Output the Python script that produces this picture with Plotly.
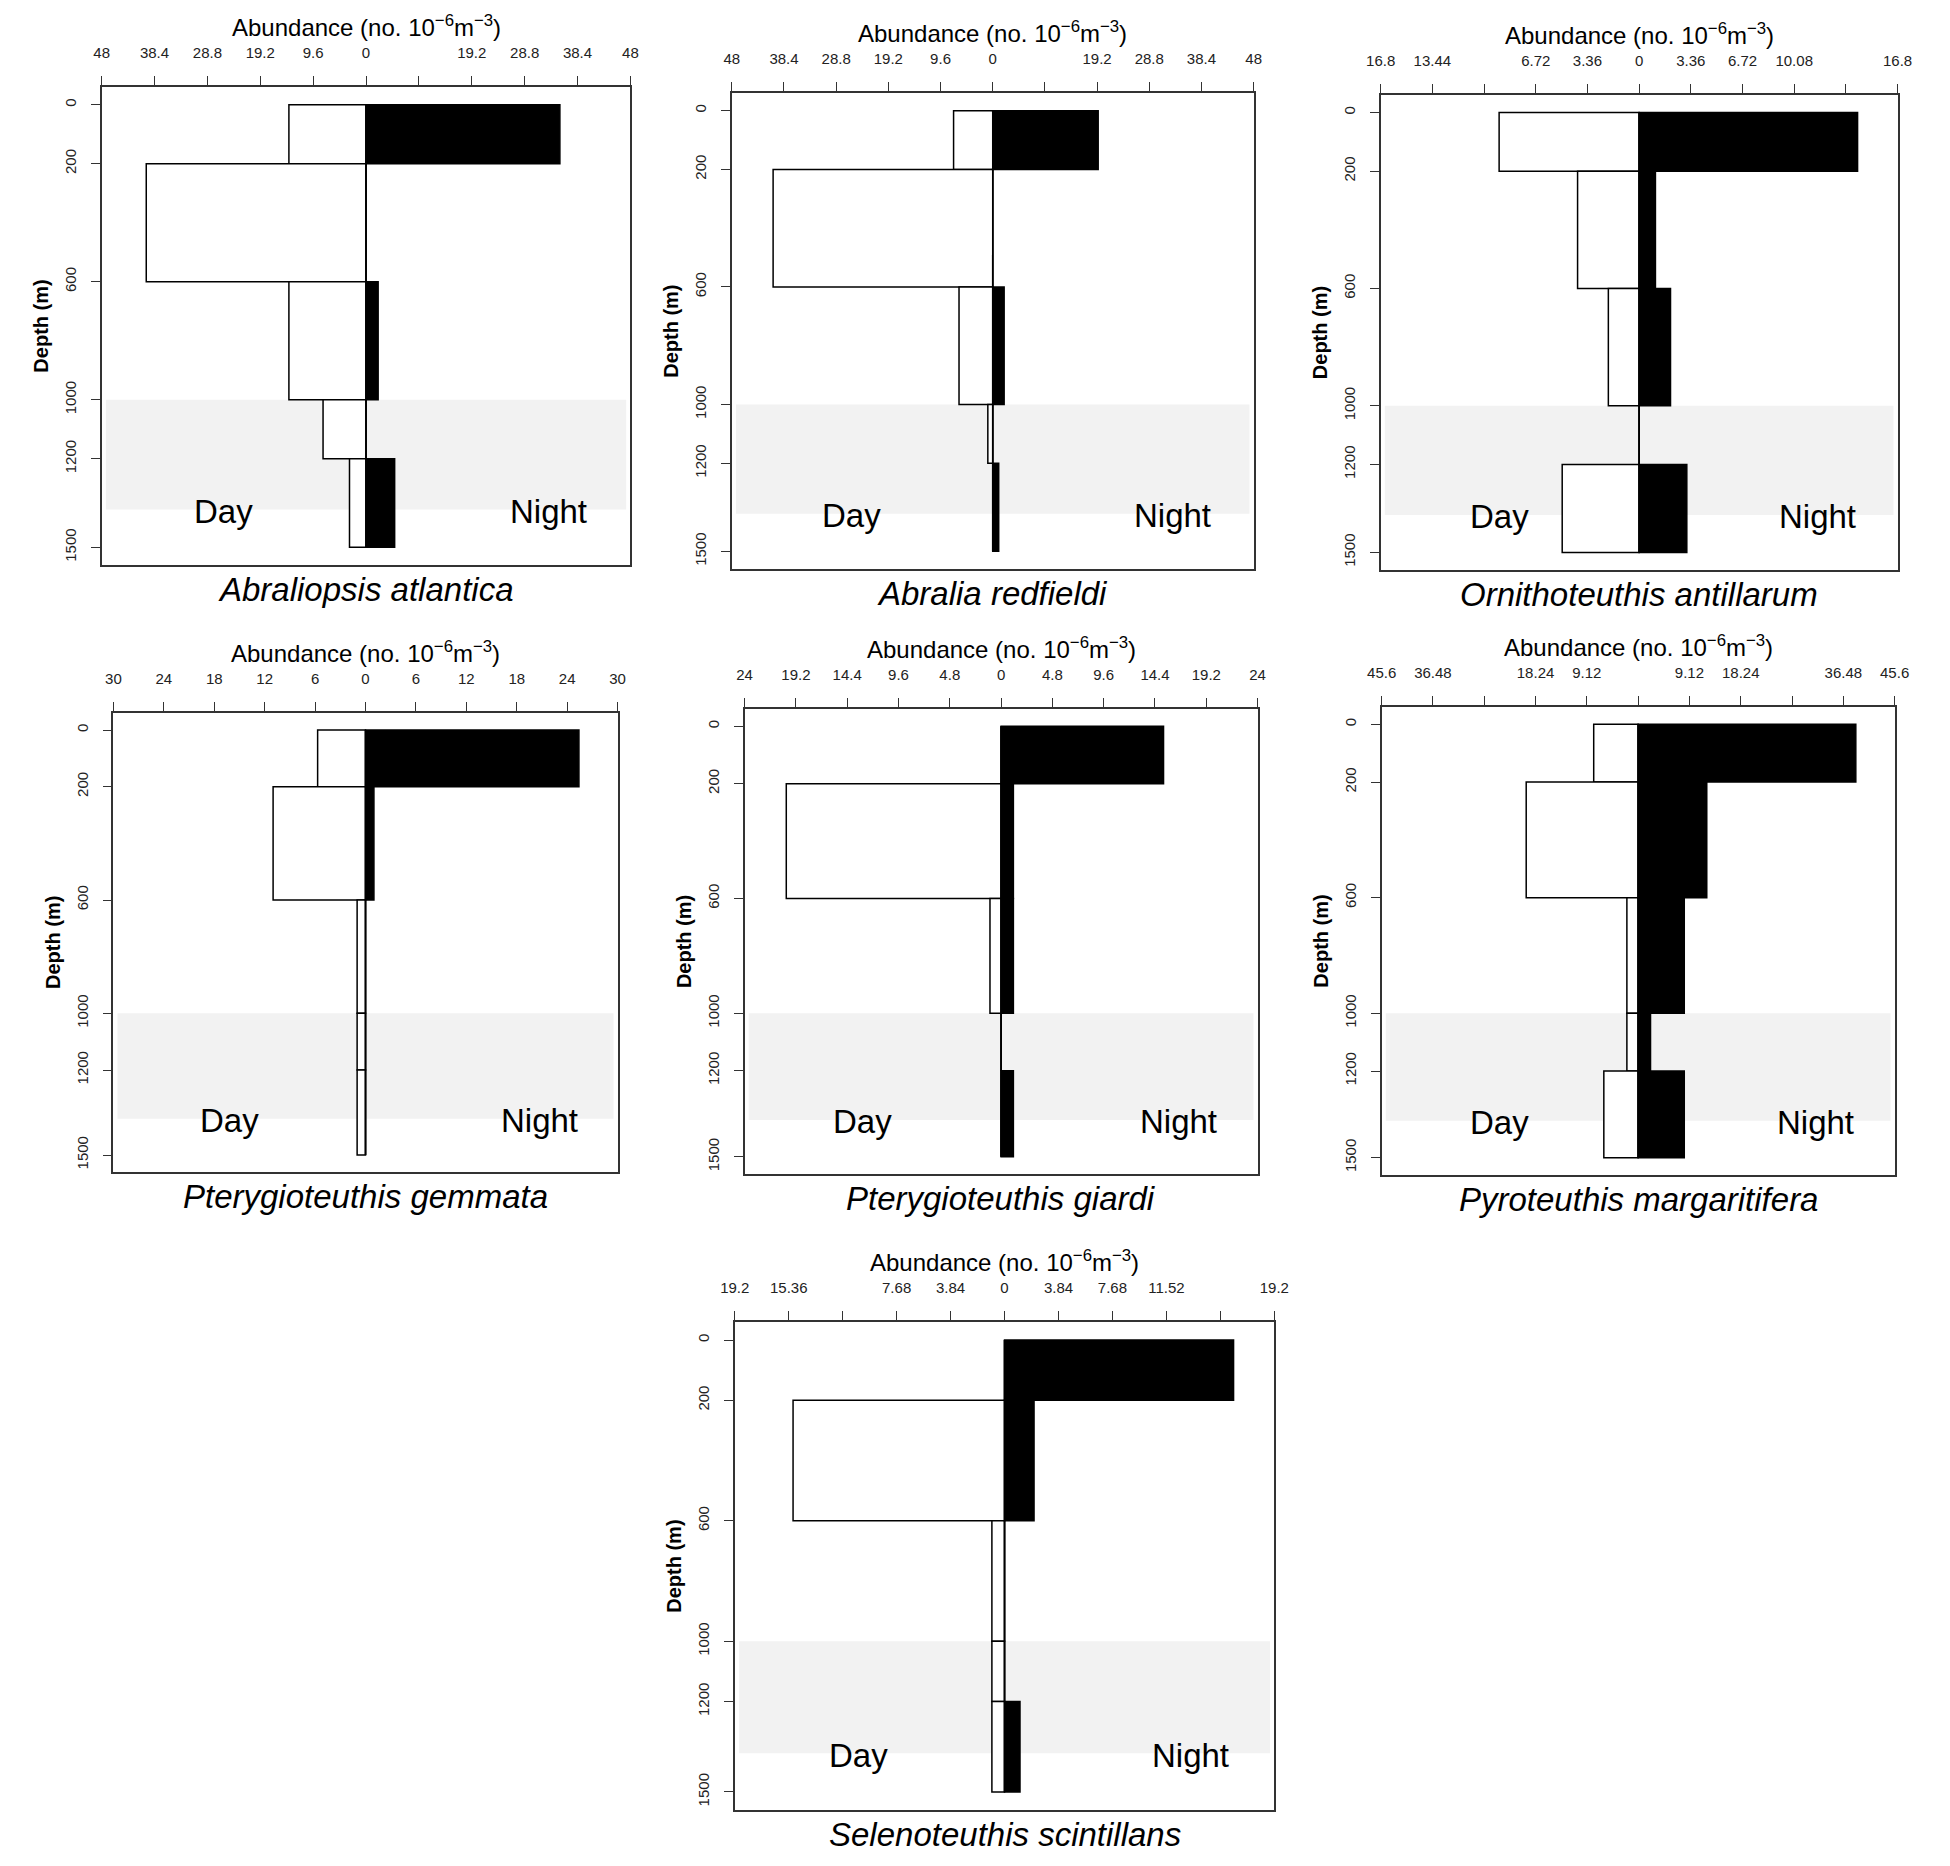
import plotly.graph_objects as go

# depth bins (m)
depth_edges = [0, 200, 600, 1000, 1200, 1500]
depth_ticks = [0, 200, 600, 1000, 1200, 1500]

species = [
    "Abraliopsis atlantica",
    "Abralia redfieldi",
    "Ornithoteuthis antillarum",
    "Pterygioteuthis gemmata",
    "Pterygioteuthis giardi",
    "Pyroteuthis margaritifera",
    "Selenoteuthis scintillans",
]

# abundance (no. 10^-6 m^-3) per depth bin
day_abraliopsis = [14.0, 39.9, 14.0, 7.8, 3.0]
night_abraliopsis = [35.2, 0, 2.2, 0, 5.2]
day_abralia = [7.2, 40.4, 6.2, 0.9, 0]
night_abralia = [19.4, 0, 2.1, 0, 1.1]
day_ornitho = [9.1, 4.0, 2.0, 0, 5.0]
night_ornitho = [14.2, 1.06, 2.04, 0, 3.1]
day_gemmata = [5.7, 11.0, 1.0, 1.0, 1.0]
night_gemmata = [25.4, 1.0, 0, 0, 0]
day_giardi = [0, 20.1, 1.04, 0, 0]
night_giardi = [15.2, 1.15, 1.15, 0, 1.15]
day_pyro = [7.9, 19.9, 2.0, 2.0, 6.1]
night_pyro = [38.7, 12.2, 8.2, 2.2, 8.2]
day_seleno = [0, 15.05, 0.9, 0.9, 0.9]
night_seleno = [16.3, 2.1, 0, 0, 1.1]

day_values = [day_abraliopsis, day_abralia, day_ornitho, day_gemmata,
              day_giardi, day_pyro, day_seleno]
night_values = [night_abraliopsis, night_abralia, night_ornitho, night_gemmata,
                night_giardi, night_pyro, night_seleno]

# axis half-range and tick step per panel
axis_max = [48, 48, 16.8, 30, 24, 45.6, 19.2]
tick_step = [9.6, 9.6, 3.36, 6, 4.8, 9.12, 3.84]
# tick values whose label is not printed
unlabeled = [[9.6], [9.6], [-10.08, 13.44], [], [], [-27.36, 0, 27.36], [-11.52, 15.36]]

# panel boxes in pixels (x0, x1, y0, y1), y from top
W, H = 1950, 1866
boxes = [
    (88, 625, 87, 565),
    (728, 1258, 93, 569),
    (1387, 1912, 95, 570),
    (100, 612, 713, 1172),
    (741, 1262, 709, 1174),
    (1388, 1909, 707, 1175),
    (731, 1279, 1322, 1810),
]

FONT = "Liberation Sans, Arial, sans-serif"
TICK_FONT = dict(family=FONT, size=15, color="#222")
shade_top, shade_bottom = 1000, 1372

mids = [(a + b) / 2 for a, b in zip(depth_edges[:-1], depth_edges[1:])]
widths = [b - a for a, b in zip(depth_edges[:-1], depth_edges[1:])]

fig = go.Figure()
layout = dict(
    width=W, height=H,
    margin=dict(l=0, r=0, t=0, b=0),
    paper_bgcolor="white", plot_bgcolor="white",
    showlegend=False, barmode="overlay",
    annotations=[], shapes=[],
)

for i in range(7):
    n = "" if i == 0 else str(i + 1)
    xa, ya = "x" + n, "y" + n
    m = axis_max[i]
    step = tick_step[i]
    all_ticks = [round(k * step, 2) for k in range(-5, 6)]
    shown = [v for v in all_ticks if not any(abs(v - u) < 1e-6 for u in unlabeled[i])]

    fig.add_trace(go.Bar(
        y=mids, x=[-v for v in day_values[i]], width=widths, orientation="h",
        marker=dict(color="white", line=dict(color="black", width=1.5)),
        xaxis=xa, yaxis=ya, hoverinfo="skip"))
    fig.add_trace(go.Bar(
        y=mids, x=night_values[i], width=widths, orientation="h",
        marker=dict(color="black", line=dict(color="black", width=1.5)),
        xaxis=xa, yaxis=ya, hoverinfo="skip"))
    fig.add_trace(go.Scatter(
        x=[0, 0], y=[depth_edges[0], depth_edges[-1]], mode="lines",
        line=dict(color="black", width=1.5), xaxis=xa, yaxis=ya, hoverinfo="skip"))

    x0, x1, y0, y1 = boxes[i]
    layout["xaxis" + n] = dict(
        domain=[x0 / W, x1 / W], anchor=ya, side="top",
        range=[-m, m], tickmode="array", tickvals=shown,
        ticktext=[f"{abs(v):g}" for v in shown],
        ticks="outside", ticklen=9, tickwidth=1.4, tickcolor="#333",
        minor=dict(tickmode="array", tickvals=all_ticks, ticks="outside",
                   ticklen=9, tickwidth=1.4, tickcolor="#333", showgrid=False),
        showline=True, mirror=True, linecolor="#333", linewidth=1.8,
        showgrid=False, zeroline=False, ticklabelstandoff=12,
        tickfont=TICK_FONT,
    )
    layout["yaxis" + n] = dict(
        domain=[1 - y1 / H, 1 - y0 / H], anchor=xa,
        range=[1560, -60], tickvals=depth_ticks, tickangle=-90,
        ticks="outside", ticklen=9, tickwidth=1.4, tickcolor="#333",
        showline=True, mirror=True, linecolor="#333", linewidth=1.8,
        showgrid=False, zeroline=False, ticklabelstandoff=9,
        tickfont=TICK_FONT,
    )

    layout["shapes"].append(dict(
        type="rect", xref=xa + " domain", yref=ya, x0=0.008, x1=0.992,
        y0=shade_top, y1=shade_bottom, fillcolor="#f2f2f2",
        line=dict(width=0), layer="below"))

    dom_x, dom_y = xa + " domain", ya + " domain"
    layout["annotations"] += [
        dict(text="Abundance (no. 10<sup>−6</sup>m<sup>−3</sup>)", xref=dom_x, yref=dom_y,
             x=0.5, y=1, yshift=61, showarrow=False, yanchor="middle",
             font=dict(family=FONT, size=24, color="black")),
        dict(text="<i>" + species[i] + "</i>", xref=dom_x, yref=dom_y,
             x=0.5, y=0, yshift=-24, showarrow=False, yanchor="middle",
             font=dict(family=FONT, size=33, color="black")),
        dict(text="<b>Depth (m)</b>", xref=dom_x, yref=dom_y, x=0, y=0.5, xshift=-61,
             textangle=-90, showarrow=False, xanchor="center",
             font=dict(family=FONT, size=20, color="black")),
        dict(text="Day", xref=xa, yref=ya, x=-0.54 * m, y=1378, showarrow=False,
             font=dict(family=FONT, size=33, color="black")),
        dict(text="Night", xref=xa, yref=ya, x=0.69 * m, y=1378, showarrow=False,
             font=dict(family=FONT, size=33, color="black")),
    ]

fig.update_layout(**layout)
fig.write_html("out.html", config={"displayModeBar": False},
               post_script="document.body.style.margin='0';")
